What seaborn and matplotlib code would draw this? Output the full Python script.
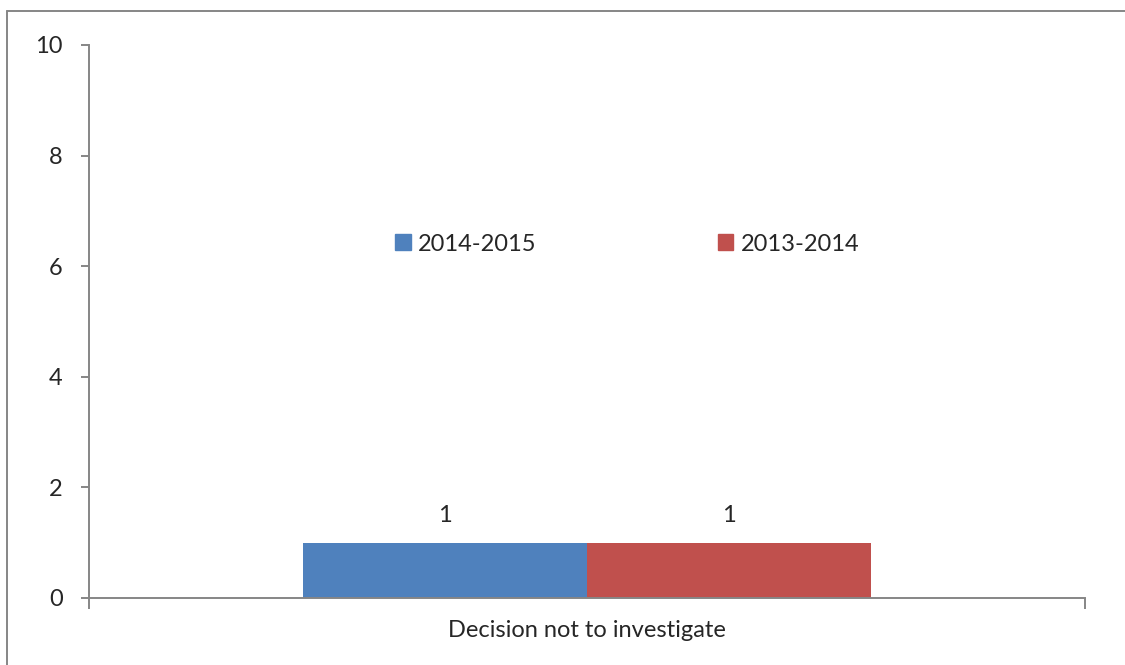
import matplotlib
matplotlib.use('Agg')
import matplotlib.pyplot as plt
import matplotlib.patches as mpatches
from matplotlib.lines import Line2D
import seaborn as sns
import pandas as pd

#----------------------------------------------------
categories=['Decision not to investigate']
years=['2014-2015', '2013-2014']
values_2014_2015=[1]
values_2013_2014=[1]
cmap=['#4F81BD', '#C0504D']
grey='#868686'
fs=17

df=pd.DataFrame({
	'category': categories*2,
	'year': [years[0]]*len(categories)+[years[1]]*len(categories),
	'value': values_2014_2015+values_2013_2014,
})

#----------------------------------------------------
sns.set_style('white')
plt.rcParams['font.family']=['Lato', 'DejaVu Sans']

fig=plt.figure(figsize=(11.25, 6.65), dpi=100)
ax=fig.add_axes([0.0791, 0.1008, 0.8853, 0.8316])
sns.barplot(data=df, x='category', y='value', hue='year', hue_order=years,
	palette=cmap, width=0.57, gap=0, saturation=1, ax=ax, edgecolor='none')

#adjust
ax.set_xlim(-0.5, 0.5)
ax.set_ylim(0, 10)
ax.set_yticks(range(0, 11, 2))
ax.set_xlabel('')
ax.set_ylabel('')
for s in ['top', 'right']:
	ax.spines[s].set_visible(False)
for s in ['left', 'bottom']:
	ax.spines[s].set_color(grey)
	ax.spines[s].set_linewidth(1.4)
ax.tick_params(axis='y', which='major', direction='out', length=6, width=1.4, color=grey,
	left=True, pad=13, labelsize=fs)
ax.tick_params(axis='x', which='major', length=0, pad=16, labelsize=fs)
ax.set_xticks([-0.5, 0.5], minor=True)
ax.tick_params(axis='x', which='minor', direction='out', length=8, width=1.4, color=grey, bottom=True)

for c in ax.containers:
	ax.bar_label(c, labels=[f'{v:g}' for v in c.datavalues], padding=12, fontsize=fs)

handles=[mpatches.Patch(color=cmap[0]), mpatches.Patch(color=cmap[1])]
ax.legend(handles, years, loc='center left', bbox_to_anchor=(0.3075, 0.64), ncol=2,
	frameon=False, fontsize=fs, handlelength=0.65, handleheight=0.65, handletextpad=0.3,
	columnspacing=7.7, borderaxespad=0, borderpad=0)

#figure border (top and left edges only)
x0=7/1125
y0=1-11/665
fig.add_artist(Line2D([x0, 1], [y0, y0], transform=fig.transFigure, color=grey, linewidth=1.4))
fig.add_artist(Line2D([x0, x0], [0, y0], transform=fig.transFigure, color=grey, linewidth=1.4))

#save
plt.savefig('out.png', dpi=100)
plt.close()
